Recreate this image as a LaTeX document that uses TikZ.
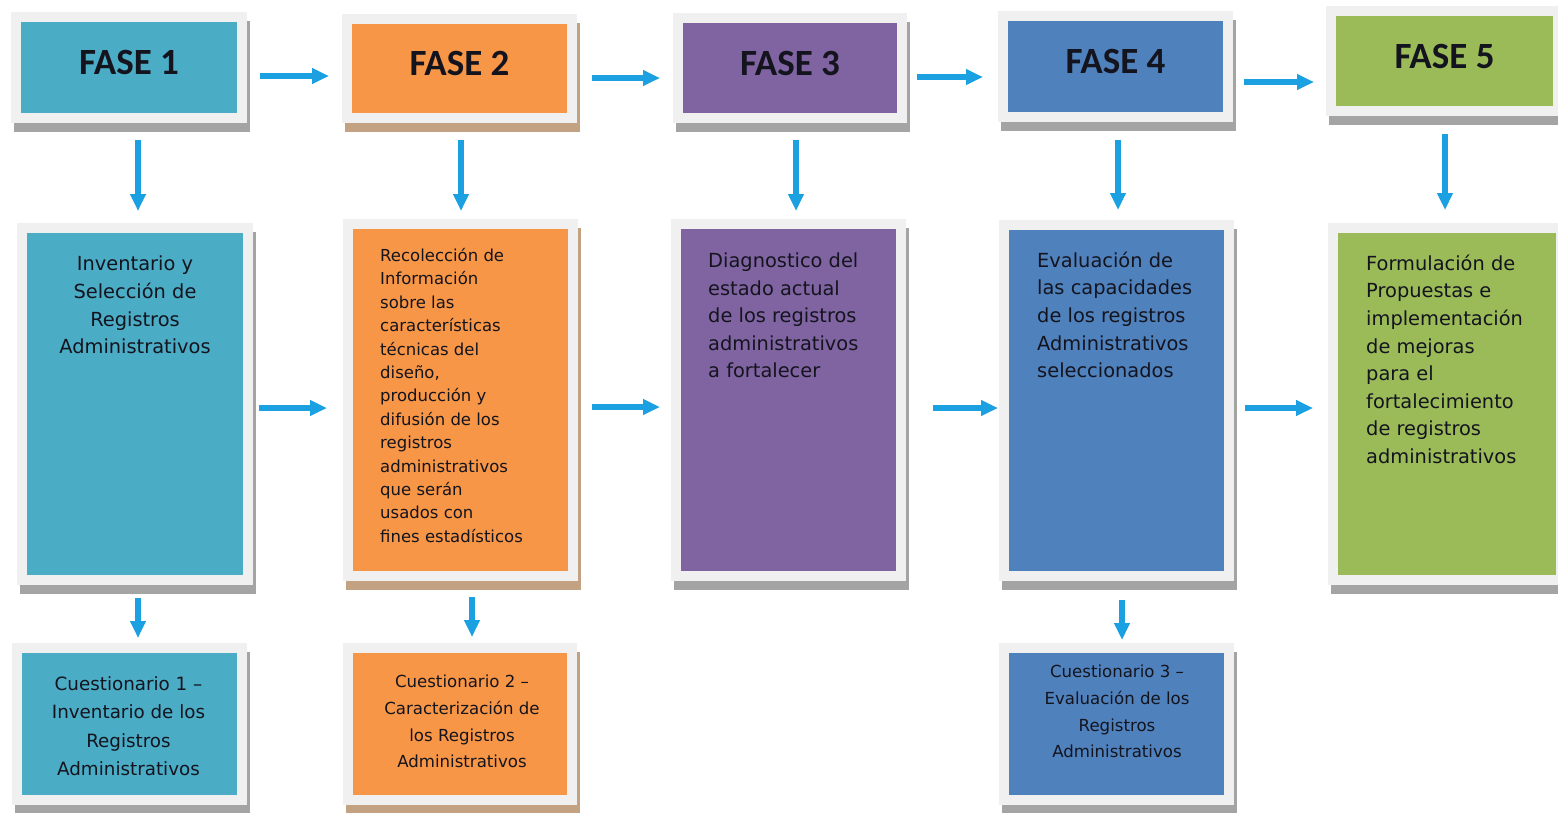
\documentclass[tikz,border=0pt]{standalone}
\usepackage{fontspec}
\setmainfont{DejaVu Sans}
\newfontfamily\hdfont{Carlito}
\usetikzlibrary{arrows.meta}
\definecolor{cA}{HTML}{4BACC6}
\definecolor{cB}{HTML}{F79646}
\definecolor{cC}{HTML}{8064A2}
\definecolor{cD}{HTML}{4F81BD}
\definecolor{cE}{HTML}{9BBB59}
\definecolor{framecol}{HTML}{F0F0F0}
\definecolor{shgray}{HTML}{A4A4A4}
\definecolor{shtan}{HTML}{C2A283}
\definecolor{arrowcol}{HTML}{1BA1E2}
\definecolor{txt}{HTML}{14141E}
\tikzset{
  pbox/.style={rectangle, draw=framecol, line width=10pt, inner sep=0pt},
  shad/.style={preaction={draw=#1, fill=#1, transform canvas={shift={(3pt,-9pt)}}}},
  hdtext/.style={font=\hdfont\bfseries\fontsize{37}{42}\selectfont, text=txt, text depth=10pt},
  bigtext/.style={font=\fontsize{19.4}{27.6}\selectfont, text=txt, inner sep=0pt},
  midtext/.style={font=\fontsize{16.5}{23.4}\selectfont, text=txt, inner sep=0pt, align=left},
  arr/.style={draw=arrowcol, line width=6.5pt, -{Triangle[width=15pt,length=17pt]}},
}
\begin{document}
\begin{tikzpicture}[x=1pt,y=-1pt]
\useasboundingbox[fill=white] (0,0) rectangle (1558,812);

% header boxes
\node[pbox, shad=shgray, fill=cA, minimum width=226pt, minimum height=101pt, hdtext] (h1) at (129,67.5) {FASE 1};
\node[pbox, shad=shtan,  fill=cB, minimum width=225pt, minimum height=99pt,  hdtext] (h2) at (459.5,68.5) {FASE 2};
\node[pbox, shad=shgray, fill=cC, minimum width=224pt, minimum height=100pt, hdtext] (h3) at (790,68) {FASE 3};
\node[pbox, shad=shgray, fill=cD, minimum width=225pt, minimum height=101pt, hdtext] (h4) at (1115.5,66.5) {FASE 4};
\node[pbox, shad=shgray, fill=cE, minimum width=227pt, minimum height=100pt, hdtext] (h5) at (1444.5,61) {FASE 5};

% middle boxes
\node[pbox, shad=shgray, fill=cA, minimum width=226pt, minimum height=352pt] (m1) at (135,404) {};
\node[pbox, shad=shtan,  fill=cB, minimum width=225pt, minimum height=352pt] (m2) at (460.5,400) {};
\node[pbox, shad=shgray, fill=cC, minimum width=225pt, minimum height=352pt] (m3) at (788.5,400) {};
\node[pbox, shad=shgray, fill=cD, minimum width=225pt, minimum height=351pt] (m4) at (1116.5,400.5) {};
\node[pbox, shad=shgray, fill=cE, minimum width=228pt, minimum height=352pt] (m5) at (1447,404) {};

% bottom boxes
\node[pbox, shad=shgray, fill=cA, minimum width=225pt, minimum height=152pt] (q1) at (129.5,724) {};
\node[pbox, shad=shtan,  fill=cB, minimum width=224pt, minimum height=152pt] (q2) at (460,724) {};
\node[pbox, shad=shgray, fill=cD, minimum width=225pt, minimum height=152pt] (q4) at (1116.5,724) {};

% texts of middle boxes
\node[bigtext, align=center, anchor=north] (t1) at (135,256) {Inventario y\\Selección de\\Registros\\Administrativos};
\node[midtext, anchor=north west] (t2) at (380,248) {Recolección de\\Información\\sobre las\\características\\técnicas del\\diseño,\\producción y\\difusión de los\\registros\\administrativos\\que serán\\usados con\\fines estadísticos};
\node[bigtext, align=left, anchor=north west] (t3) at (708,252.5) {Diagnostico del\\estado actual\\de los registros\\administrativos\\a fortalecer};
\node[bigtext, align=left, anchor=north west] (t4) at (1037,251.5) {Evaluación de\\las capacidades\\de los registros\\Administrativos\\seleccionados};
\node[bigtext, align=left, anchor=north west] (t5) at (1366,254.5) {Formulación de\\Propuestas e\\implementación\\de mejoras\\para el\\fortalecimiento\\de registros\\administrativos};

% texts of bottom boxes
\node[font=\fontsize{18.3}{28.5}\selectfont, text=txt, inner sep=0pt, align=center, anchor=north] (u1) at (128.5,676) {Cuestionario 1 –\\Inventario de los\\Registros\\Administrativos};
\node[font=\fontsize{16.6}{26.7}\selectfont, text=txt, inner sep=0pt, align=center, anchor=north] (u2) at (462,675) {Cuestionario 2 –\\Caracterización de\\los Registros\\Administrativos};
\node[font=\fontsize{16.6}{26.7}\selectfont, text=txt, inner sep=0pt, align=center, anchor=north] (u4) at (1117,665) {Cuestionario 3 –\\Evaluación de los\\Registros\\Administrativos};

% header row arrows
\draw[arr, shorten <=13pt, shorten >=13pt] ([yshift=-8.5pt]h1.east) -- ([yshift=-8.5pt]h1.east -| h2.west);
\draw[arr, shorten <=15pt, shorten >=13pt] ([yshift=-9.5pt]h2.east) -- ([yshift=-9.5pt]h2.east -| h3.west);
\draw[arr, shorten <=10pt, shorten >=15pt] ([yshift=-9pt]h3.east) -- ([yshift=-9pt]h3.east -| h4.west);
\draw[arr, shorten <=11pt, shorten >=12pt] ([yshift=-15.5pt]h4.east) -- ([yshift=-15.5pt]h4.east -| h5.west);

% header to middle arrows
\draw[arr, shorten <=17pt, shorten >=12pt] ([xshift=9pt]h1.south) -- ([xshift=9pt]h1.south |- m1.north);
\draw[arr, shorten <=17pt, shorten >=8pt] ([xshift=1.5pt]h2.south) -- ([xshift=1.5pt]h2.south |- m2.north);
\draw[arr, shorten <=17pt, shorten >=8pt] ([xshift=6pt]h3.south) -- ([xshift=6pt]h3.south |- m3.north);
\draw[arr, shorten <=18pt, shorten >=10pt] ([xshift=2.5pt]h4.south) -- ([xshift=2.5pt]h4.south |- m4.north);
\draw[arr, shorten <=18pt, shorten >=13pt] ([xshift=0.5pt]h5.south) -- ([xshift=0.5pt]h5.south |- m5.north);

% middle row arrows
\draw[arr, shorten <=6pt, shorten >=16pt] ([yshift=-4pt]m1.east) -- ([yshift=-4pt]m1.east -| m2.west);
\draw[arr, shorten <=14pt, shorten >=11pt] ([yshift=-7pt]m2.east) -- ([yshift=-7pt]m2.east -| m3.west);
\draw[arr, shorten <=27pt, shorten >=1pt] ([yshift=-8pt]m3.east) -- ([yshift=-8pt]m3.east -| m4.west);
\draw[arr, shorten <=11pt, shorten >=15pt] ([yshift=-7.5pt]m4.east) -- ([yshift=-7.5pt]m4.east -| m5.west);

% middle to bottom arrows
\draw[arr, shorten <=13pt, shorten >=5pt] ([xshift=3pt]m1.south) -- ([xshift=3pt]m1.south |- q1.north);
\draw[arr, shorten <=16pt, shorten >=6pt] ([xshift=11.5pt]m2.south) -- ([xshift=11.5pt]m2.south |- q2.north);
\draw[arr, shorten <=19pt, shorten >=3pt] ([xshift=5.5pt]m4.south) -- ([xshift=5.5pt]m4.south |- q4.north);
\end{tikzpicture}
\end{document}
